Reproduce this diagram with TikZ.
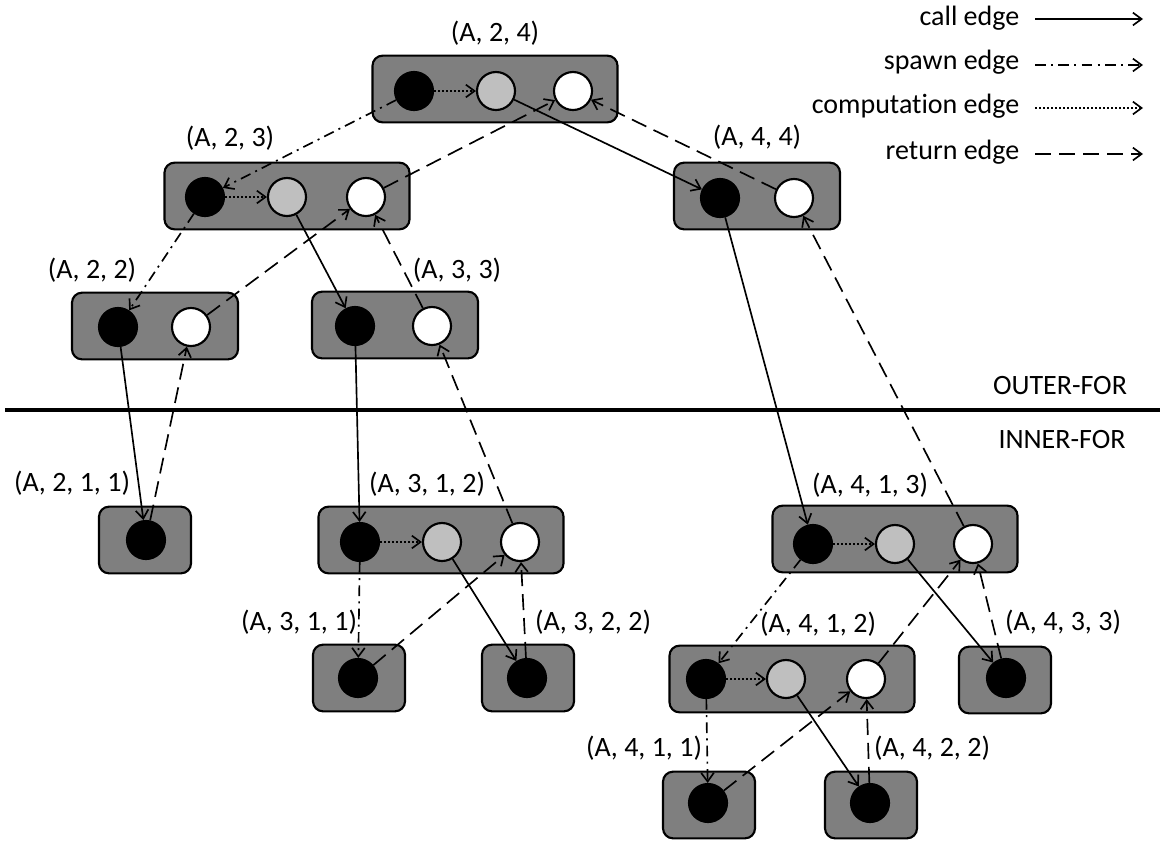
\documentclass[tikz,border=0pt]{standalone}
\usepackage{fontspec}
\setmainfont[Ligatures=NoCommon]{Carlito}
\usetikzlibrary{arrows.meta}
\definecolor{boxgray}{HTML}{7F7F7F}
\definecolor{ballgray}{HTML}{BFBFBF}
\begin{document}
\begin{tikzpicture}[x=0.75pt,y=-0.75pt,
  every node/.style={font=\fontsize{21}{25}\selectfont},
  procbox/.style={draw, line width=1.6pt, fill=boxgray, rounded corners=7.5pt,
    minimum height=50pt, inner sep=0pt},
  box3/.style={procbox, minimum width=183.75pt},
  box2/.style={procbox, minimum width=124.5pt},
  box1/.style={procbox, minimum width=69pt},
  ball/.style={circle, draw, line width=1.6pt, minimum size=28.5pt, inner sep=0pt},
  blackball/.style={ball, fill=black},
  grayball/.style={ball, fill=ballgray},
  whiteball/.style={ball, fill=white},
  link/.style={line width=1.25pt, -{Straight Barb[length=6.5pt,width=9.5pt]}},
  calledge/.style={link},
  spawnedge/.style={link, dash pattern=on 8pt off 4pt on 1.5pt off 4pt},
  compedge/.style={link, dash pattern=on 1.5pt off 1.5pt},
  retedge/.style={link, dash pattern=on 12pt off 6pt},
]
\useasboundingbox (0,0) rectangle (1160,840);

% ---- boxes ----
\node[box3] (b24)  at (495,89)  {};
\node[box3] (b23)  at (287,196) {};
\node[box2] (b44)  at (757,196) {};
\node[box2] (b22)  at (155,326) {};
\node[box2] (b33)  at (395,325) {};
\node[box1] (b211) at (145,540) {};
\node[box3] (b312) at (441,540) {};
\node[box3] (b413) at (895,539) {};
\node[box1] (b311) at (359,678) {};
\node[box1] (b322) at (528,678) {};
\node[box3] (b412) at (792,679) {};
\node[box1] (b433) at (1005,680) {};
\node[box1] (b411) at (709,805) {};
\node[box1] (b422) at (871,805) {};

% ---- circles ----
\node[blackball] (k24) at (414,91) {};
\node[grayball]  (g24) at (496,91) {};
\node[whiteball] (w24) at (573,91) {};

\node[blackball] (k23) at (205,197) {};
\node[grayball]  (g23) at (287,197) {};
\node[whiteball] (w23) at (366,197) {};

\node[blackball] (k44) at (720,198) {};
\node[whiteball] (w44) at (794,198) {};

\node[blackball] (k22) at (118,327) {};
\node[whiteball] (w22) at (191,327) {};

\node[blackball] (k33) at (355,326) {};
\node[whiteball] (w33) at (432,326) {};

\node[blackball] (k211) at (146,540) {};

\node[blackball] (k312) at (360,542) {};
\node[grayball]  (g312) at (442,542) {};
\node[whiteball] (w312) at (520,542) {};

\node[blackball] (k413) at (813,544) {};
\node[grayball]  (g413) at (895,544) {};
\node[whiteball] (w413) at (973,544) {};

\node[blackball] (k311) at (358,678) {};
\node[blackball] (k322) at (527,678) {};

\node[blackball] (k412) at (706,679) {};
\node[grayball]  (g412) at (786,679) {};
\node[whiteball] (w412) at (866,679) {};

\node[blackball] (k433) at (1006,678) {};
\node[blackball] (k411) at (708,803) {};
\node[blackball] (k422) at (870,803) {};

% ---- labels ----
\node (l24)  at (495,33)  {(A, 2, 4)};
\node (l23)  at (230,138) {(A, 2, 3)};
\node (l44)  at (757,137) {(A, 4, 4)};
\node (l22)  at (92,270)  {(A, 2, 2)};
\node (l33)  at (457,270) {(A, 3, 3)};
\node (l211) at (72,483)  {(A, 2, 1, 1)};
\node (l312) at (427,484) {(A, 3, 1, 2)};
\node (l413) at (870,485) {(A, 4, 1, 3)};
\node (l311) at (299,622) {(A, 3, 1, 1)};
\node (l322) at (593,622) {(A, 3, 2, 2)};
\node (l412) at (818,624) {(A, 4, 1, 2)};
\node (l433) at (1063,622) {(A, 4, 3, 3)};
\node (l411) at (644,748) {(A, 4, 1, 1)};
\node (l422) at (932,748) {(A, 4, 2, 2)};

% ---- separator between the two loops ----
\coordinate (sepL) at (5,410);
\coordinate (sepR) at (1160,410);
\draw[line width=2.4pt] (sepL) -- (sepR);
\node (outer) at (1060,386) {OUTER-FOR};
\node (inner) at (1062,440) {INNER-FOR};

% ---- computation edges ----
\draw[compedge] (k24) -- (g24);
\draw[compedge] (k23) -- (g23);
\draw[compedge] (k312) -- (g312);
\draw[compedge] (k413) -- (g413);
\draw[compedge] (k412) -- (g412);

% ---- spawn edges ----
\draw[spawnedge] (k24) -- (k23);
\draw[spawnedge] (k23) -- (k22);
\draw[spawnedge] (k312) -- (k311);
\draw[spawnedge] (k413) -- (k412);
\draw[spawnedge] (k412) -- (k411);

% ---- call edges ----
\draw[calledge] (g24) -- (k44);
\draw[calledge] (g23) -- (k33);
\draw[calledge] (k44) -- (k413);
\draw[calledge] (k22) -- (k211);
\draw[calledge] (k33) -- (k312);
\draw[calledge] (g312) -- (k322);
\draw[calledge] (g413) -- (k433);
\draw[calledge] (g412) -- (k422);

% ---- return edges ----
\draw[retedge] (w23) -- (w24);
\draw[retedge] (w44) -- (w24);
\draw[retedge] (w22) -- (w23);
\draw[retedge] (w33) -- (w23);
\draw[retedge] (w413) -- (w44);
\draw[retedge] (k211) -- (w22);
\draw[retedge] (w312) -- (w33);
\draw[retedge] (k311) -- (w312);
\draw[retedge] (k322) -- (w312);
\draw[retedge] (w412) -- (w413);
\draw[retedge] (k433) -- (w413);
\draw[retedge] (k411) -- (w412);
\draw[retedge] (k422) -- (w412);

% ---- legend ----
\node[anchor=east] (tcall) at (1024,18)  {call edge};
\node[anchor=east] (tspawn) at (1024,62) {spawn edge};
\node[anchor=east] (tcomp) at (1024,106) {computation edge};
\node[anchor=east] (tret) at (1024,152)  {return edge};
\coordinate (c1a) at (1035,19);  \coordinate (c1b) at (1143,19);
\coordinate (c2a) at (1035,65);  \coordinate (c2b) at (1143,65);
\coordinate (c3a) at (1035,108); \coordinate (c3b) at (1143,108);
\coordinate (c4a) at (1035,154); \coordinate (c4b) at (1143,154);
\draw[calledge]  (c1a) -- (c1b);
\draw[spawnedge] (c2a) -- (c2b);
\draw[compedge]  (c3a) -- (c3b);
\draw[retedge]   (c4a) -- (c4b);
\end{tikzpicture}
\end{document}
